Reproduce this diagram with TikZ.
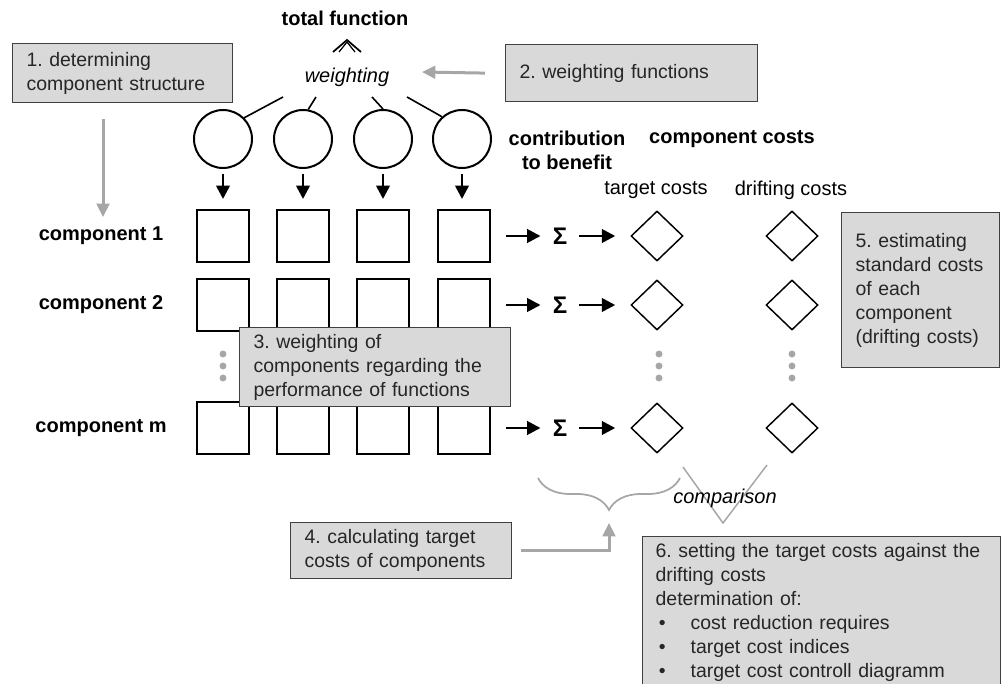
\documentclass[tikz,border=0pt]{standalone}
\usepackage{fontspec}
\setmainfont{Liberation Sans}
\usepackage{xcolor}
\usepackage{tikz}
\usetikzlibrary{arrows.meta,calc,shapes.geometric,decorations.pathreplacing}
\definecolor{boxfill}{HTML}{D9D9D9}
\definecolor{boxline}{HTML}{404040}
\definecolor{arrgray}{HTML}{A6A6A6}
\frenchspacing

\begin{document}
\begin{tikzpicture}[x=0.75pt, y=-0.75pt,
  txt/.style={font=\fontsize{15}{18}\selectfont, inner sep=1pt},
  btxt/.style={txt, font=\fontsize{15}{18}\selectfont\bfseries},
  itxt/.style={txt, font=\fontsize{15}{18}\selectfont\itshape},
  gbox/.style={font=\fontsize{14.6}{18}\selectfont, draw=boxline, fill=boxfill, line width=0.9pt, align=left,
    anchor=north west, inner xsep=10.5pt, inner ysep=0pt, text=black!85},
  fcirc/.style={circle, draw, line width=1.5pt, minimum size=43.5pt, inner sep=0pt},
  cbox/.style={rectangle, draw, line width=1.5pt, minimum size=39pt, inner sep=0pt},
  cdiam/.style={diamond, draw, line width=1.1pt, minimum width=39pt, minimum height=37.5pt, inner sep=0pt},
  blk/.style={-{Triangle[length=10pt,width=10pt]}, line width=2pt},
  garr/.style={-{Triangle[length=10pt,width=9.5pt]}, line width=2.25pt, arrgray},
  gline/.style={arrgray, line width=1.1pt}]
  \useasboundingbox (0,0) rectangle (1001,684);
  \clip (0,0) rectangle (1001,684);

  \node[btxt] (tot) at (345,18) {total function};
  \draw[line width=1.3pt] (333,52) -- (347,40) -- (361,52);
  \draw[line width=0.9pt] (339,52) -- (347,42) -- (355,52);
  \node[itxt] (wgt) at (347,77) {weighting};

  \node[gbox, minimum width=165pt, minimum height=44.25pt, text width=144pt] (b1) at (12,43)
    {1. determining\\component structure};
  \node[gbox, minimum width=189pt, minimum height=42.75pt, text width=168pt] (b2) at (505,44)
    {2. weighting functions};
  \coordinate (wa) at (422,72);
  \draw[garr] ([xshift=-15pt]b2.west) -- (wa);
  \coordinate (a1) at (103,217);
  \draw[garr] (b1.south -| a1) ++(0,16) -- (a1);

  % functions
  \foreach \c/\x in {1/223,2/303,3/383,4/462}
    \node[fcirc] (f\c) at (\x,139) {};
  \coordinate (w1) at (283,97);
  \coordinate (w2) at (316,97);
  \coordinate (w3) at (372,97);
  \coordinate (w4) at (407,97);
  \draw[line width=1.2pt] (w1) -- (f1.45);
  \draw[line width=1.2pt] (w2) -- (f2.80);
  \draw[line width=1.2pt] (w3) -- (f3.90);
  \draw[line width=1.2pt] (w4) -- (f4.132);

  \node[btxt, align=center] (contr) at (567,150) {contribution\\to benefit};
  \node[btxt] (ccost) at (732,139) {component costs};
  \node[txt] (tcost) at (656,190) {target costs};
  \node[txt] (dcost) at (791,190) {drifting costs};

  % components
  \foreach \r/\y in {1/236,2/305,m/428}{
    \foreach \c/\x in {1/223,2/303,3/383,4/464}
      \node[cbox] (s\r\c) at (\x,\y) {};
    \node[btxt] (lc\r) at (101,\y) {component \r};
    \node[btxt, font=\fontsize{18}{18}\selectfont\bfseries, inner sep=0pt] (sg\r) at (560,\y) {Σ};
    \node[cdiam] (t\r) at (657,\y) {};
    \node[cdiam] (d\r) at (792,\y) {};
    \draw[blk, shorten <=11.25pt, shorten >=9pt] (s\r4) -- (sg\r);
    \draw[blk, shorten <=9pt, shorten >=11.25pt] (sg\r) -- (t\r);
  }
  \foreach \c in {1,...,4}
    \draw[blk, shorten <=3.75pt, shorten >=7.5pt] (f\c.south) -- (f\c.south |- s1\c.north);

  \foreach \x in {223,659,792}
    \foreach \y in {354,366,378}
      \fill[arrgray] (\x,\y) circle (2.6pt);

  \node[gbox, minimum width=203.25pt, minimum height=59.25pt, text width=182.25pt] (b3) at (239,327)
    {3. weighting of\\components regarding the\\performance of functions};
  \node[gbox, minimum width=118.5pt, minimum height=116.25pt, text width=97.5pt] (b5) at (841,212)
    {5. estimating\\standard costs\\of each\\component\\(drifting costs)};

  % comparison
  \draw[arrgray, line width=1.3pt, decorate, decoration={brace, amplitude=24pt, mirror}]
    (538,478) -- (680,478);
  \node[gbox, minimum width=165.75pt, minimum height=42pt, text width=144.75pt] (b4) at (290,522)
    {4. calculating target\\costs of components};
  \coordinate (brarr) at (609,523);
  \draw[garr] ([xshift=6.75pt]b4.east) -| (brarr);

  \coordinate (v1) at (683,467);
  \coordinate (v2) at (723,523);
  \coordinate (v3) at (767,465);
  \draw[gline] (v1) -- (v2) -- (v3);
  \node[itxt] (cmp) at (725,498) {comparison};

  \node[gbox, minimum width=268.5pt, minimum height=114pt, text width=249pt, inner xsep=9.75pt] (b6) at (642,536)
    {6. setting the target costs against the\\drifting costs\\determination of:\\
     \makebox[26.25pt][l]{\,•}cost reduction requires\\
     \makebox[26.25pt][l]{\,•}target cost indices\\
     \makebox[26.25pt][l]{\,•}target cost controll diagramm};
\end{tikzpicture}
\end{document}
